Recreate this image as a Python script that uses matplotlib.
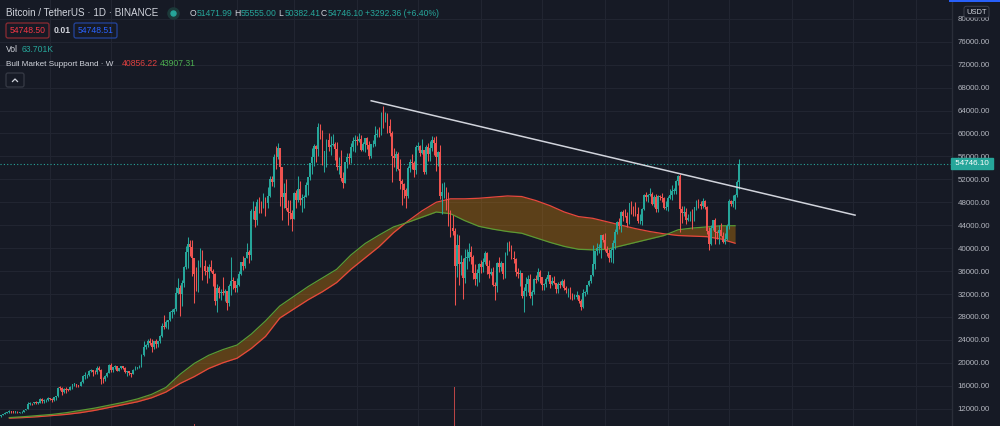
import numpy as np
import pandas as pd
import matplotlib
matplotlib.use("Agg")
import matplotlib.pyplot as plt
import matplotlib.dates as mdates
import matplotlib.transforms as mtransforms
from matplotlib.patches import FancyBboxPatch
from matplotlib.lines import Line2D

# tradingview dark theme colours
BG = '#161a25'
GRID = '#212531'
UP = '#26a69a'
DOWN = '#ef5350'
TXT = '#d1d4dc'
AXTXT = '#b2b5be'
RED_TXT = '#f23645'
BLUE_TXT = '#2962ff'
GREEN_TXT = '#4caf50'

plt.rcParams['font.family'] = ['Liberation Sans', 'DejaVu Sans']

W, H = 1000, 426

# ---------------- daily BTCUSDT candles (open = previous close) ----------------
start_date = '2020-10-08'
first_open = 10670

closes = [
    # oct 2020
    10925, 11050, 11296, 11370, 11530, 11430, 11425, 11500, 11320, 11360, 11500, 11750, 11915, 12820, 12990, 12930, 13110, 13030, 13070, 13640, 13280, 13455, 13560, 13800,
    # nov
    13750, 13550, 14020, 14140, 15590, 15580, 14830, 15480, 15330, 15300, 15700, 16280, 16320, 16070, 15960, 16720, 17660, 17800, 17820, 18650, 18700, 18420, 18360, 19160, 18720, 17150, 17140, 17720, 18180, 19700,
    # dec
    18790, 19200, 19420, 18650, 19150, 19360, 19170, 18320, 18540, 18250, 18030, 18800, 19170, 19270, 19430, 21330, 22800, 23130, 23860, 23480, 22740, 23820, 23240, 23730, 24690, 26490, 26280, 27080, 27390, 28880, 28920,
    # jan 2021
    29410, 32200, 33000, 31990, 33950, 36770, 39410, 40670, 40240, 38240, 35540, 33910, 37320, 39150, 36830, 36030, 35800, 36630, 36020, 35550, 30830, 33000, 32100, 32280, 32260, 32520, 30430, 33460, 34310, 34290, 33110,
    # feb
    33520, 35480, 37620, 36940, 38290, 39260, 38870, 46400, 46480, 44840, 47970, 47390, 47190, 48580, 47930, 49130, 52120, 51550, 55910, 55840, 57410, 54090, 48890, 49680, 47070, 46280, 46100, 45140,
    # mar
    49590, 48440, 50350, 48370, 48750, 48880, 50970, 52380, 54880, 55860, 57800, 57230, 61190, 59000, 55600, 56900, 58910, 57650, 58030, 58100, 57350, 54080, 54340, 52300, 51300, 55050, 55880, 55780, 57630, 58740, 58740,
    # apr
    58720, 58980, 57060, 58200, 59130, 57990, 56000, 58090, 58100, 59770, 59960, 59840, 63580, 62960, 63200, 61380, 60000, 56150, 55710, 56470, 53800, 51700, 51190, 50100, 49070, 54030, 55040, 54840, 53560, 57700,
    # may
    57830, 56580, 57170, 53200, 57690, 56440, 57380, 58890, 58280, 55860, 56750, 49150, 49720, 49880, 46760, 46430, 43540, 42910, 36970, 40600, 37300, 37540, 34770, 38310, 38350, 39310, 38480, 35680, 34620, 35680, 37290,
    # jun
    36690, 37570, 39190, 36850, 35520, 35800, 33550, 33380, 37390, 36680, 37330, 35550, 39020, 40530, 40150, 38350, 38090, 35820, 35480, 35600, 31680, 32500, 33680, 34660, 31570, 32270, 34700, 34490, 35910, 35040,
    # jul
    33510, 33800, 34700, 35290, 33690, 34220, 33860, 32880, 33810, 33510, 34260, 33090, 32730, 32820, 31780, 31390, 31530, 31780, 30840, 29790, 32140, 32290, 33580, 34290, 35400, 37270, 39460, 40010, 40020, 42240, 41460,
    # aug
    39850, 39150, 38200, 39750, 40870, 42830, 44610, 43830, 46290, 45590, 45550, 44430, 47830, 47100, 47020, 45940, 44690, 44710, 46760, 49340, 48870, 49290, 49510, 47700, 48970, 46840, 49070, 48900, 48810, 46990, 47130,
    # sep
    48830, 49280, 49940, 49940, 51760, 52660, 46860, 46070, 46370, 44850, 45170, 46030, 44950, 47090, 48150, 47770, 47290, 48300, 47260, 42980, 40690, 43570, 44900, 42810, 42700, 43180, 42170, 41030, 41520, 43820,
    # oct
    48140, 47660, 48200, 49230, 51471.99, 54746.10,
]

highs = [
    10950, 11100, 11490, 11445, 11730, 11560, 11550, 11630, 11540, 11400, 11530, 11830, 12030, 13220, 13200, 13030, 13170, 13350, 13250, 13790, 13860, 13650, 13700, 14100,
    13900, 13820, 14070, 14250, 15750, 15970, 15750, 15650, 15850, 15480, 15950, 16350, 16480, 16330, 16150, 16880, 17860, 18480, 18100, 18800, 18960, 18750, 18770, 19420, 19480, 19000, 17460, 17850, 18350, 19860,
    19920, 19340, 19600, 19510, 19180, 19420, 19400, 19290, 18640, 18560, 18290, 18950, 19410, 19350, 19570, 21560, 23800, 23280, 24170, 24300, 24100, 23840, 24100, 23780, 24790, 26870, 28420, 27500, 27400, 28990, 29320,
    29600, 33300, 34800, 33600, 34440, 36940, 40370, 41950, 41400, 41350, 38250, 36630, 37850, 40100, 39750, 37950, 36850, 37300, 37850, 36420, 35600, 33830, 33460, 32950, 34880, 32920, 32560, 33780, 38530, 34930, 34330,
    34720, 35980, 37660, 38700, 38310, 40950, 39700, 46800, 48200, 47300, 48630, 48980, 48150, 49700, 49000, 50620, 52620, 52530, 56370, 57770, 58350, 57530, 54180, 51370, 52050, 48420, 48400, 46640,
    49790, 50200, 52640, 51770, 49450, 49200, 51450, 52400, 54900, 57390, 58150, 58060, 61790, 61680, 60630, 56900, 58980, 60100, 59470, 59880, 58580, 58430, 55830, 57200, 53240, 55080, 56640, 56560, 58400, 59370, 59800,
    59490, 60000, 59800, 58500, 59250, 59450, 58650, 58150, 58870, 61220, 60800, 61200, 63770, 64854, 63820, 63600, 62500, 60400, 57530, 57000, 56760, 55470, 52130, 51430, 50540, 54360, 55460, 56430, 55200, 57960,
    58450, 57930, 58980, 57200, 57950, 58360, 58650, 59500, 59300, 59600, 56870, 58000, 51370, 51560, 50700, 49800, 46640, 45800, 43550, 42450, 42250, 38860, 38300, 39900, 39800, 40900, 40400, 38880, 37200, 36400, 37470,
    37900, 38220, 39480, 39290, 37920, 36480, 36790, 34070, 37530, 38400, 37690, 37440, 39380, 41060, 41330, 40530, 39560, 38200, 36460, 36140, 35750, 33300, 34880, 35300, 35500, 32700, 34750, 35300, 36600, 36100,
    35040, 33960, 34950, 35950, 35290, 35050, 35060, 33920, 34100, 34260, 34590, 34680, 33340, 33120, 33180, 32250, 31940, 32440, 31900, 31050, 32860, 32580, 33650, 34490, 35400, 40550, 39540, 40900, 40640, 42320, 42410,
    42600, 40450, 39780, 39970, 41400, 43400, 44700, 45310, 46450, 46700, 46750, 46220, 47890, 48140, 47380, 48050, 47160, 46000, 47060, 49380, 49760, 49520, 50500, 49870, 49290, 49370, 49180, 49310, 49630, 48900, 48250,
    49120, 50390, 51050, 50560, 51900, 52780, 52920, 47400, 47360, 47030, 45990, 46460, 46880, 47250, 48450, 48490, 48150, 48800, 48370, 47350, 43640, 44000, 44990, 45200, 42970, 44000, 44350, 42790, 42630, 44130,
    48500, 48360, 49230, 49500, 51890, 55555.00,
]

lows = [
    10530, 10830, 11050, 11230, 11180, 11300, 11280, 11280, 11220, 11300, 11330, 11420, 11690, 11900, 12680, 12720, 12900, 12900, 12800, 13060, 12950, 12990, 13130, 13420,
    13600, 13200, 13300, 13530, 14090, 15200, 14350, 14700, 14800, 15100, 15280, 15450, 15950, 15700, 15850, 15870, 16550, 17220, 17340, 17750, 18400, 17620, 18000, 18020, 18500, 16330, 16450, 16880, 17520, 18180,
    18320, 18330, 18870, 18560, 18500, 18860, 18900, 18200, 17650, 17910, 17570, 18020, 18710, 19000, 19050, 19290, 21230, 22350, 22750, 23060, 21820, 22350, 22600, 22700, 23430, 24500, 25850, 26100, 25880, 27320, 27850,
    28600, 28950, 31950, 28130, 29900, 33300, 36300, 36500, 38700, 35110, 30420, 32530, 32380, 36700, 34410, 35360, 33850, 34800, 35850, 33400, 30070, 28850, 31390, 30900, 31910, 30840, 29240, 29880, 31910, 32830, 32300,
    32300, 33420, 35360, 36160, 36570, 38220, 37350, 37990, 45000, 43730, 43990, 46130, 46200, 47000, 45570, 47000, 48950, 50900, 50700, 53860, 55480, 47400, 44890, 47000, 46720, 44110, 45000, 43000,
    45000, 47050, 48100, 47500, 46300, 47070, 48880, 49270, 51850, 53000, 54270, 55000, 56080, 58970, 54570, 53270, 54120, 57000, 56280, 57820, 55450, 53650, 53000, 51700, 50430, 51280, 53960, 54700, 54900, 57000, 56770,
    57930, 58450, 56900, 57000, 56800, 57350, 55470, 55700, 57680, 57870, 59300, 59370, 59800, 61000, 62020, 60000, 59580, 51500, 54220, 53420, 53620, 50400, 47500, 48750, 47000, 48800, 53220, 53880, 52330, 53010,
    57050, 56030, 56450, 53000, 52900, 55200, 55250, 56900, 56240, 53400, 54370, 48600, 46000, 48800, 46650, 43830, 42000, 42250, 30000, 35000, 33490, 35250, 31110, 34000, 36420, 37800, 37200, 34700, 33630, 33380, 34150,
    35660, 35920, 37170, 35560, 34800, 35260, 33340, 31000, 32400, 35780, 35940, 34600, 34760, 38730, 39510, 38120, 37370, 35130, 34810, 33350, 31250, 28800, 31700, 32300, 31300, 30150, 32000, 33860, 34220, 34000,
    32700, 32700, 33300, 34350, 33130, 33550, 33770, 32110, 32260, 33000, 33310, 32660, 32200, 31550, 31130, 31020, 31180, 31100, 30400, 29280, 29480, 31710, 31950, 33400, 33880, 35200, 36400, 38780, 39200, 38310, 41000,
    39420, 38690, 37640, 37510, 37330, 39850, 42450, 43260, 42850, 44670, 45350, 43770, 44250, 45970, 45520, 45650, 44380, 44200, 43950, 46630, 48290, 48120, 49030, 47600, 47120, 46370, 46370, 48370, 48000, 46860, 46700,
    46560, 48600, 48370, 49400, 49500, 50960, 42800, 44410, 45520, 44130, 44740, 44740, 43370, 44700, 46690, 47000, 46770, 47050, 46850, 42500, 39600, 40570, 43100, 40680, 41660, 40750, 42110, 40900, 40750, 41400,
    43290, 47430, 47120, 46890, 49000, 50382.41,
]

# ---------------- bull market support band (weekly, mondays) ----------------
band_start = '2020-10-12'
sma_20w = [10350, 10450, 10600, 10800, 11000, 11300, 11700, 12200, 12700, 13200,
           13900, 14900, 16400, 17600, 19000, 20000, 20800, 22500, 24600, 27800,
           29400, 31000, 32400, 34000, 36300, 38300, 40300, 42700, 44700, 46500,
           48000, 48600, 48600, 48700, 48900, 49100, 49000, 48300, 47400, 46300,
           45500, 45200, 44600, 44000, 43400, 42900, 42500, 42200, 42100, 42000,
           41600, 40856.22]
ema_21w = [10450, 10600, 10800, 11000, 11300, 11700, 12100, 12600, 13100, 13700,
           14500, 15700, 18000, 19900, 21300, 22300, 23100, 25000, 27300, 29900,
           31600, 33300, 34800, 36300, 38800, 40800, 42300, 43700, 44500, 45400,
           46300, 46000, 44800, 43800, 43300, 42900, 42600, 41800, 41000, 40300,
           39800, 39700, 39800, 40400, 41000, 41600, 42200, 43200, 43500, 43700,
           43900, 43907.31]

# hand drawn trend line (two anchors)
trend_dates = ['2021-04-08', '2021-12-02']
trend_prices = [65700, 45760]

# only the two tallest volume bars poke up into the visible part of the pane
vol_dates = ['2021-01-11', '2021-05-19']
vol_values = [214000, 356000]

price_ticks = [12000, 16000, 20000, 24000, 28000, 32000, 36000, 40000, 44000,
               48000, 52000, 56000, 60000, 64000, 68000, 72000, 76000, 80000]

# header legend values (label, value, x pixel of label)
ohlc_text = [('O', '51471.99', 190), ('H', '55555.00', 234), ('L', '50382.41', 278), ('C', '54746.10', 321)]
change_text = '+3292.36 (+6.40%)'
bid, spread, ask = '54748.50', '0.01', '54748.51'
vol_last = '63.701K'


def pix(x, y):
    '''image pixel (top-left origin) -> figure fraction'''
    return x / W, 1 - y / H


def draw_candles(ax):
    dates = pd.date_range(start_date, periods=len(closes), freq='D')
    x = mdates.date2num(dates)
    c = np.array(closes, dtype=float)
    o = np.r_[first_open, c[:-1]]
    hi = np.array(highs, dtype=float)
    lo = np.array(lows, dtype=float)
    cols = np.where(c >= o, UP, DOWN)

    ax.vlines(x, lo, hi, colors=cols, linewidth=0.75, zorder=3)
    body = np.maximum(np.abs(c - o), 120)
    ax.bar(x, body, bottom=np.minimum(o, c), width=0.85, color=cols, linewidth=0, zorder=4)


def draw_band(ax):
    bdates = pd.date_range(band_start, periods=len(sma_20w), freq='7D')
    bx = mdates.date2num(bdates)
    ax.fill_between(bx, sma_20w, ema_21w, color='#ff9800', alpha=0.3, linewidth=0, zorder=2)
    ax.plot(bx, sma_20w, color='#e8483d', linewidth=0.9, zorder=2.5)
    ax.plot(bx, ema_21w, color='#5b9a34', linewidth=0.9, zorder=2.5)


def draw_header(fig):
    # line 1 - symbol + ohlc
    fs = 6.2
    fig.text(*pix(6, 13), 'Bitcoin / TetherUS · 1D · BINANCE', color=TXT, fontsize=7.1, va='center')
    fig.add_artist(Line2D([173 / W], [1 - 13 / H], marker='o', ms=8, color='#1c3a3a',
                          transform=fig.transFigure))
    fig.add_artist(Line2D([173 / W], [1 - 13 / H], marker='o', ms=3.6, color=UP,
                          transform=fig.transFigure))
    for letter, val, x0 in ohlc_text:
        fig.text(*pix(x0, 13), letter, color=TXT, fontsize=fs, va='center')
        fig.text(*pix(x0 + 6.3, 13), val, color=UP, fontsize=fs, va='center')
    fig.text(*pix(365, 13), change_text, color=UP, fontsize=fs, va='center')

    # line 2 - bid / spread / ask boxes
    ident = mtransforms.IdentityTransform()
    for x0, x1, ec, tc, txt in [(6, 49, '#8c2b33', RED_TXT, bid), (74, 117, '#24449c', BLUE_TXT, ask)]:
        fig.add_artist(FancyBboxPatch((x0, H - 38), x1 - x0, 15, boxstyle='round,pad=0,rounding_size=2',
                                      fc='none', ec=ec, lw=0.9, transform=ident))
        fig.text(*pix((x0 + x1) / 2, 30.5), txt, color=tc, fontsize=fs, ha='center', va='center')
    fig.text(*pix(54, 30.5), spread, color=TXT, fontsize=fs, va='center', fontweight='bold')

    # line 3 - volume
    fig.text(*pix(6, 49), 'Vol', color=TXT, fontsize=fs, va='center')
    fig.text(*pix(22, 49), vol_last, color=UP, fontsize=fs, va='center')

    # line 4 - indicator
    fig.text(*pix(6, 64), 'Bull Market Support Band · W', color=TXT, fontsize=5.9, va='center')
    fig.text(*pix(122, 64), '%.2f' % sma_20w[-1], color='#e0403f', fontsize=fs, va='center')
    fig.text(*pix(160, 64), '%.2f' % ema_21w[-1], color=GREEN_TXT, fontsize=fs, va='center')

    # collapse button
    fig.add_artist(FancyBboxPatch((6, H - 87), 18, 14, boxstyle='round,pad=0,rounding_size=2',
                                  fc='none', ec='#363a45', lw=0.9, transform=ident))
    fig.add_artist(Line2D([12.5, 15, 17.5], [H - 81.5, H - 79, H - 81.5], color=TXT, lw=0.9,
                          transform=ident))


def main():
    fig = plt.figure(figsize=(W / 100, H / 100), dpi=100)
    fig.patch.set_facecolor(BG)
    ax = fig.add_axes([0, 0, 952 / W, 1])
    ax.set_facecolor(BG)

    # volume overlay (own scale) - made first, twinx moves the main ticks to the left
    ax2 = ax.twinx()
    ax2.bar(mdates.date2num(pd.to_datetime(vol_dates)), vol_values, width=0.6,
            color=DOWN, alpha=0.75, linewidth=0)
    ax2.set_ylim(206000, 1846000)
    ax2.set_yticks([])
    for s in ax2.spines.values():
        s.set_visible(False)

    draw_band(ax)
    draw_candles(ax)

    # trend line
    ax.plot(mdates.date2num(pd.to_datetime(trend_dates)), trend_prices, color='#d1d4dc', lw=1.1, zorder=5)

    # current price dotted line
    last = closes[-1]
    ax.axhline(last, color=UP, lw=0.8, ls=(0, (1, 2)), zorder=1.5)

    # axes limits, mapped from the pixel grid of the screenshot
    jan1 = mdates.date2num(pd.Timestamp('2021-01-01'))
    ax.set_xlim(jan1 - 85.6, jan1 + 382.7)
    ax.set_ylim(8980, 83275)

    ax.xaxis.set_major_locator(mdates.MonthLocator())
    ax.set_yticks(price_ticks)
    ax.set_yticklabels(['%.2f' % t for t in price_ticks])
    ax.yaxis.tick_right()
    ax.tick_params(axis='y', which='both', left=False, labelleft=False, right=False, labelright=True,
                   length=0, pad=4.2, labelsize=5.7, labelcolor=AXTXT)
    ax.tick_params(axis='x', length=0, labelbottom=False)
    ax.grid(True, color=GRID, lw=0.8)
    ax.set_axisbelow(True)
    for side in ['top', 'bottom', 'left']:
        ax.spines[side].set_visible(False)
    ax.spines['right'].set_color('#2a2e39')
    ax.spines['right'].set_linewidth(1.0)

    # last price tag
    tr = mtransforms.blended_transform_factory(ax.transAxes, ax.transData)
    ax.text(1.001, last, ' %.2f ' % last, transform=tr, color='white', fontsize=5.8,
            va='center', ha='left', clip_on=False, zorder=10,
            bbox=dict(boxstyle='square,pad=0.2', fc=UP, ec=UP))

    # currency box top right + blue marker line
    fig.text(*pix(976.5, 12), 'USDT', color=TXT, fontsize=5.4, ha='center', va='center', zorder=10,
             bbox=dict(boxstyle='round,pad=0.3,rounding_size=0.3', fc=BG, ec='#434651', lw=0.6))
    fig.add_artist(Line2D([950 / W, 1.0], [1 - 0.7 / H, 1 - 0.7 / H], color=BLUE_TXT, lw=1.4,
                          transform=fig.transFigure))

    draw_header(fig)

    fig.savefig('out.png', dpi=100, facecolor=BG)


if __name__ == "__main__":
    main()
